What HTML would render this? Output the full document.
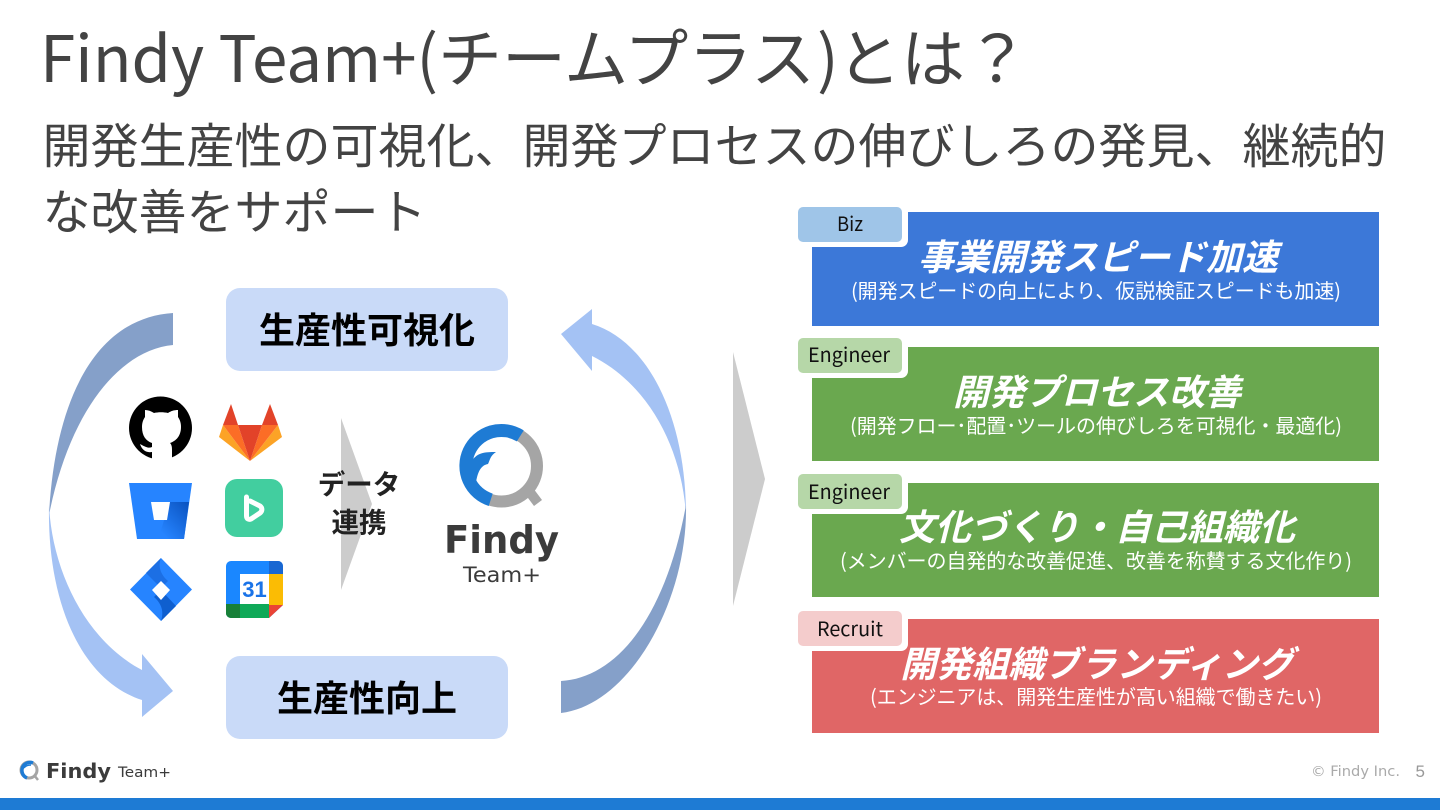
<!DOCTYPE html>
<html lang="ja"><head><meta charset="utf-8"><title>Findy Team+</title>
<style>
html,body{margin:0;padding:0;background:#fff;width:1440px;height:810px;overflow:hidden}
svg{display:block}
text{font-family:"Noto Sans CJK JP","Liberation Sans",sans-serif}
.dj{font-family:"DejaVu Sans",sans-serif}
.lb{font-family:"Liberation Sans",sans-serif}
</style></head><body>
<svg width="1440" height="810" viewBox="0 0 1440 810" xmlns="http://www.w3.org/2000/svg">
<rect width="1440" height="810" fill="#fff"/>
<g font-size="64" fill="#434343">
<text x="40" y="82" textLength="398" lengthAdjust="spacingAndGlyphs">Findy Team+(</text>
<text x="438" y="82">チームプラス</text>
<text x="817" y="82">)</text>
<text x="837" y="82">とは？</text>
</g>
<text x="42.500" y="163" font-size="48" fill="#434343" textLength="1344" lengthAdjust="spacing">開発生産性の可視化、開発プロセスの伸びしろの発見、継続的</text>
<text x="42.500" y="229" font-size="48" fill="#434343" textLength="384" lengthAdjust="spacing">な改善をサポート</text>

<!-- cycle arrows -->
<path d="M173 313V345C120 350 70 410 49 515C55 400 95 318 173 313Z" fill="#85a0c9"/>
<path d="M49 505C52 570 85 640 142 670V654L173 691L142 717V700C80 680 47 600 49 505Z" fill="#a4c2f4"/>
<path d="M561 334L592 309V324C650 342 686 420 686 515C682 450 650 385 592 356V371Z" fill="#a4c2f4"/>
<path d="M686 505C688 600 630 705 561 713V681C615 678 665 620 686 505Z" fill="#85a0c9"/>

<!-- pills -->
<rect x="226" y="288" width="282" height="83" rx="14" fill="#c9daf8"/>
<rect x="226" y="656" width="282" height="83" rx="14" fill="#c9daf8"/>
<text x="367" y="343" font-size="36" font-weight="700" fill="#000" text-anchor="middle">生産性可視化</text>
<text x="367" y="711" font-size="36" font-weight="700" fill="#000" text-anchor="middle">生産性向上</text>

<!-- github -->
<circle cx="160.500" cy="428" r="31.500" fill="#000"/>
<path d="M152 460V452C146 453 142 450 140 444C144 446 148 449 152 447V443C146 441 142 436 142 427C142 423 143 420 145 417L145 410C148 410 151 411 154 413C158 412 164 412 168 413C171 411 174 410 178 410L178 417C180 420 181 423 181 427C181 436 176 441 170 443C172 445 172 448 172 450V460Z" fill="#fff"/>

<!-- gitlab -->
<path d="M250 461L219 437L223 425Z" fill="#fca326"/>
<path d="M250 461L282 437L278 425Z" fill="#fca326"/>
<path d="M250 461L223 425H238Z" fill="#fc6d26"/>
<path d="M250 461L278 425H262Z" fill="#fc6d26"/>
<path d="M250 461L238 425H262Z" fill="#e24329"/>
<path d="M223 425L231 404L238 425Z" fill="#e24329"/>
<path d="M278 425L270 404L262 425Z" fill="#e24329"/>

<!-- bitbucket -->
<defs>
<linearGradient id="bb" x1="1" y1="0" x2="0.2" y2="0.9"><stop offset="0" stop-color="#0a52bf"/><stop offset="1" stop-color="#2684ff"/></linearGradient>
</defs>
<path d="M129 483H192L184 539H137Z" fill="#2684ff"/>
<path d="M170 502H189L184 539H158Z" fill="url(#bb)"/>
<path d="M151 502H170L167 520H154Z" fill="#fff"/>

<!-- backlog-like -->
<rect x="225" y="479" width="58" height="58" rx="12" fill="#42ce9f"/>
<path d="M246.500 497V516C246.500 519 249 520 251 519L260 513C262.500 511 262.500 508 260 506L250 501" fill="none" stroke="#fff" stroke-width="5" stroke-linejoin="round" stroke-linecap="round"/>

<!-- jira -->
<path d="M161 558L192 589.500L161 621L130 589.500Z" fill="#2684ff"/>
<path d="M146 573L161 558C158 566 160 574 168 581L161 588Z" fill="#1c6fe4"/>
<path d="M176 606L161 621C164 612 162 604 154 597L161 590Z" fill="#0f5fcf"/>
<path d="M161 581L170 590L161 600L152 590Z" fill="#fff"/>

<!-- calendar -->
<path d="M231 561H278A5 5 0 0 1 283 566V605L269 618H231A5 5 0 0 1 226 613V566A5 5 0 0 1 231 561Z" fill="#1a87ff"/>
<path d="M269 561H278A5 5 0 0 1 283 566V574H269Z" fill="#1967d2"/>
<rect x="269" y="574" width="14" height="31" fill="#fbbc04"/>
<path d="M226 604H269V618H231A5 5 0 0 1 226 613Z" fill="#0fa958"/>
<path d="M226 604H240V618H231A5 5 0 0 1 226 613Z" fill="#188038"/>
<path d="M269 605H283L269 618Z" fill="#ea4335"/>
<rect x="240" y="574" width="29" height="30" fill="#fff"/>
<text class="lb" x="254.500" y="597" font-size="22" font-weight="700" fill="#1a73e8" text-anchor="middle">31</text>

<!-- triangles -->
<path d="M341 418L372 504L341 590Z" fill="#cccccc"/>
<path d="M733 352L765 479L733 606Z" fill="#cccccc"/>
<text x="359" y="494" font-size="27.500" font-weight="700" fill="#222" text-anchor="middle">データ</text>
<text x="359" y="532" font-size="27.500" font-weight="700" fill="#222" text-anchor="middle">連携</text>

<!-- Findy logo big -->
<circle cx="501.500" cy="466" r="35.500" fill="none" stroke="#a5a5a5" stroke-width="12"/>
<path d="M520.300 435.900A35.500 35.500 0 1 0 490.700 499.800" fill="none" stroke="#1e7bd4" stroke-width="13"/>
<path d="M470 464C476 452 485 452 496 452C490 456 490 460 488 464C482 465 478 470 476 482L470 480Z" fill="#1e7bd4"/>
<path d="M529 491L538 503" stroke="#a5a5a5" stroke-width="10" fill="none"/>
<text class="dj" x="444" y="553" font-size="38" font-weight="700" fill="#3b3b3b" textLength="115" lengthAdjust="spacingAndGlyphs">Findy</text>
<text class="dj" x="463" y="582" font-size="21" fill="#3b3b3b" textLength="78" lengthAdjust="spacingAndGlyphs">Team+</text>

<!-- right boxes -->
<rect x="812" y="212" width="567" height="114" fill="#3c78d8"/>
<rect x="812" y="347" width="567" height="114" fill="#6aa84f"/>
<rect x="812" y="483" width="567" height="114" fill="#6aa84f"/>
<rect x="812" y="619" width="567" height="114" fill="#e06666"/>

<g fill="#fff" text-anchor="middle" font-weight="700" font-size="36" font-style="italic">
<text x="1098" y="270">事業開発スピード加速</text>
<text x="1097" y="405">開発プロセス改善</text>
<text x="1097" y="540">文化づくり・自己組織化</text>
<text x="1097" y="677">開発組織ブランディング</text>
</g>
<g fill="#fff" font-size="20">
<text x="851" y="298" textLength="490" lengthAdjust="spacing">(開発スピードの向上により、仮説検証スピードも加速)</text>
<text x="850" y="433" textLength="492" lengthAdjust="spacing">(開発フロー･配置･ツールの伸びしろを可視化・最適化)</text>
<text x="840" y="568" textLength="512" lengthAdjust="spacing">(メンバーの自発的な改善促進、改善を称賛する文化作り)</text>
<text x="870" y="704" textLength="452" lengthAdjust="spacing">(エンジニアは、開発生産性が高い組織で働きたい)</text>
</g>

<!-- tags -->
<g fill="#fff">
<rect x="796" y="205" width="112" height="42" rx="7"/>
<rect x="796" y="336" width="112" height="42" rx="7"/>
<rect x="796" y="472" width="112" height="42" rx="7"/>
<rect x="796" y="609" width="112" height="42" rx="7"/>
</g>
<rect x="798" y="207" width="104" height="35" rx="5" fill="#9fc5e8"/>
<rect x="798" y="338" width="104" height="35" rx="5" fill="#b6d7a8"/>
<rect x="798" y="474" width="104" height="35" rx="5" fill="#b6d7a8"/>
<rect x="798" y="611" width="104" height="35" rx="5" fill="#f4cccc"/>
<g fill="#111" font-size="20">
<text x="837" y="231" textLength="26" lengthAdjust="spacingAndGlyphs">Biz</text>
<text x="808" y="362" textLength="82" lengthAdjust="spacingAndGlyphs">Engineer</text>
<text x="808" y="499" textLength="82" lengthAdjust="spacingAndGlyphs">Engineer</text>
<text x="817" y="636" textLength="66" lengthAdjust="spacingAndGlyphs">Recruit</text>
</g>

<!-- footer logo -->
<circle cx="29" cy="770" r="8" fill="none" stroke="#a5a5a5" stroke-width="3"/>
<path d="M33 763A8 8 0 1 0 27 778" fill="none" stroke="#1e7bd4" stroke-width="3.500"/>
<path d="M24 768C26 765 29 765 31 765" fill="none" stroke="#1e7bd4" stroke-width="1.500"/>
<path d="M34 775L38 780" stroke="#a5a5a5" stroke-width="2.500"/>
<text class="dj" x="46" y="778" font-size="20" font-weight="700" fill="#3b3b3b" textLength="65" lengthAdjust="spacingAndGlyphs">Findy</text>
<text class="dj" x="118" y="777" font-size="14.500" fill="#3b3b3b" textLength="53" lengthAdjust="spacingAndGlyphs">Team+</text>

<text class="dj" x="1311" y="776" font-size="14" fill="#aaaaaa" textLength="89" lengthAdjust="spacingAndGlyphs">© Findy Inc.</text>
<text class="lb" x="1415.500" y="777" font-size="17" fill="#999999">5</text>

<rect x="0" y="798" width="1440" height="12" fill="#1e7bd4"/>
</svg>
</body></html>
